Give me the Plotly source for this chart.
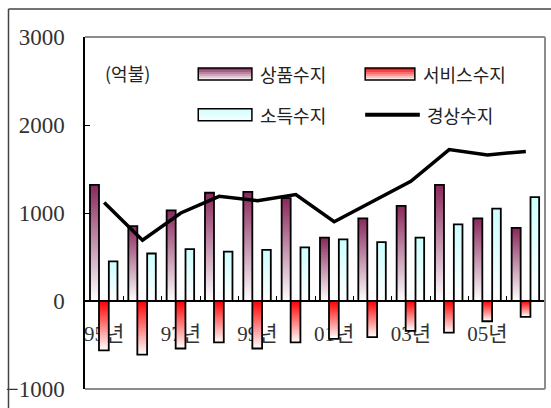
import plotly.graph_objects as go

# ---- data ----
years = ["95", "96", "97", "98", "99", "00", "01", "02", "03", "04", "05", "06"]
tick_labels = ["95년", "97년", "99년", "01년", "03년", "05년"]
y_ticks = [-1000, 0, 1000, 2000, 3000]
goods = [1320, 850, 1030, 1230, 1240, 1170, 720, 940, 1080, 1320, 940, 830]        # 상품수지
services = [-560, -610, -540, -470, -540, -470, -430, -410, -340, -360, -230, -180]  # 서비스수지
income = [450, 540, 590, 560, 580, 610, 700, 670, 720, 870, 1050, 1180]            # 소득수지
current = [1120, 690, 1000, 1190, 1140, 1210, 900, 1130, 1360, 1720, 1660, 1700]   # 경상수지
series_names = ["상품수지", "서비스수지", "소득수지", "경상수지"]
unit_label = "(억불)"

# ---- styling ----
W_FIG, H_FIG = 551, 408
ML, MR, MT, MB = 82, 6, 37, 18
PW, PH = W_FIG - ML - MR, H_FIG - MT - MB
FONT = "Liberation Serif, Noto Sans CJK KR, serif"
KFONT = "Noto Sans CJK KR, sans-serif"

MAROON = (138, 40, 92)
RED = (255, 0, 0)
CYAN = (204, 255, 255)
WHITE = (255, 255, 255)


def mix(c0, c1, t):
    return "rgb(%d,%d,%d)" % tuple(round(a + (b - a) * t) for a, b in zip(c0, c1))


def px_x(p):
    return (p - ML) / PW


def px_y(p):
    return (MT + PH - p) / PH


xs = list(range(len(years)))
fig = go.Figure()

K = 40


def gradient_bars(vals, c_zero, c_end, offset, width):
    # overlapping bars: each later one covers the outer part, giving a vertical gradient
    for k in range(K):
        f0 = k / K
        fm = (k + 0.5) / K
        fig.add_trace(go.Bar(
            x=xs, y=[v * (1 - f0) for v in vals], base=[v * f0 for v in vals],
            offset=offset, width=width,
            marker=dict(color=mix(c_zero, c_end, fm), line=dict(width=0)),
            hoverinfo="skip", showlegend=False))
    fig.add_trace(go.Bar(
        x=xs, y=vals, offset=offset, width=width,
        marker=dict(color="rgba(0,0,0,0)", line=dict(color="black", width=1.8)),
        showlegend=False))


gradient_bars(goods, WHITE, MAROON, -0.37, 0.235)
gradient_bars(services, RED, WHITE, -0.135, 0.255)
gradient_bars(income, WHITE, CYAN, 0.122, 0.225)

fig.add_trace(go.Scatter(x=xs, y=current, mode="lines",
                         line=dict(color="black", width=3.5), showlegend=False))

tickvals = [years.index(t[:2]) for t in tick_labels]

shapes = []
# plot frame: top, right, bottom in grey (left edge is the black y axis line)
GREY = dict(color="#8c8c8c", width=2)
shapes.append(dict(type="line", xref="paper", yref="paper", x0=0, x1=1, y0=1, y1=1, line=GREY))
shapes.append(dict(type="line", xref="paper", yref="paper", x0=1, x1=1, y0=0, y1=1, line=GREY))
shapes.append(dict(type="line", xref="paper", yref="paper", x0=0, x1=1, y0=0, y1=0, line=GREY))
# outer frame (top and left edges visible)
shapes.append(dict(type="line", xref="paper", yref="paper", x0=px_x(5), x1=px_x(560),
                   y0=px_y(9), y1=px_y(9), line=dict(color="#444", width=1.5)))
shapes.append(dict(type="line", xref="paper", yref="paper", x0=px_x(5), x1=px_x(5),
                   y0=px_y(9), y1=px_y(420), line=dict(color="#444", width=1.5)))


def legend_box(x0, x1, yc, c_top, c_bot):
    h = 12
    n = 6
    y_top = yc - h / 2
    for i in range(n):
        t = (i + 0.5) / n
        shapes.append(dict(type="rect", xref="paper", yref="paper",
                           x0=px_x(x0), x1=px_x(x1),
                           y0=px_y(y_top + h * i / n), y1=px_y(y_top + h * (i + 1) / n),
                           fillcolor=mix(c_top, c_bot, t), line=dict(width=0)))
    shapes.append(dict(type="rect", xref="paper", yref="paper",
                       x0=px_x(x0), x1=px_x(x1), y0=px_y(y_top), y1=px_y(y_top + h),
                       line=dict(color="black", width=1.5)))


legend_box(196, 250, 74, MAROON, WHITE)
legend_box(364, 414, 74, RED, WHITE)
legend_box(196, 250, 115, CYAN, (240, 255, 255))
shapes.append(dict(type="line", xref="paper", yref="paper", x0=px_x(364), x1=px_x(419),
                   y0=px_y(115), y1=px_y(115), line=dict(color="black", width=4)))

annotations = []
for txt, xp, yp in [(unit_label, 100, 73),
                    (series_names[0], 256, 74), (series_names[1], 420, 74),
                    (series_names[2], 256, 115), (series_names[3], 424, 115)]:
    annotations.append(dict(text=txt, xref="paper", yref="paper", x=px_x(xp), y=px_y(yp),
                            xanchor="left", yanchor="middle", showarrow=False,
                            font=dict(family=KFONT, size=18, color="#222")))

fig.update_layout(
    width=W_FIG, height=H_FIG,
    margin=dict(l=ML, r=MR, t=MT, b=MB),
    paper_bgcolor="white", plot_bgcolor="white",
    barmode="overlay", showlegend=False,
    shapes=shapes, annotations=annotations,
    xaxis=dict(range=[-0.5, len(years) - 0.5], anchor="free", position=0.25,
               showline=True, linecolor="black", linewidth=1.5,
               tickmode="array", tickvals=tickvals, ticktext=tick_labels,
               ticks="", showgrid=False, zeroline=False, layer="below traces",
               tickfont=dict(family=FONT, size=21, color="#333"),
               ticklabelstandoff=14,
               minor=dict(tickvals=[i + 0.5 for i in range(len(years) - 1)],
                          ticks="inside", ticklen=4, tickwidth=1, tickcolor="black",
                          showgrid=False)),
    yaxis=dict(range=[-1000, 3000], tickmode="array", tickvals=y_ticks,
               ticks="inside", ticklen=5, tickcolor="black",
               showline=True, linecolor="black", linewidth=1.5,
               showgrid=False, zeroline=False,
               tickfont=dict(family=FONT, size=23, color="#333"),
               ticklabelstandoff=14),
)

fig.write_html("out.html", config={"displayModeBar": False},
               post_script="document.body.style.margin='0';document.body.style.overflow='hidden';")
